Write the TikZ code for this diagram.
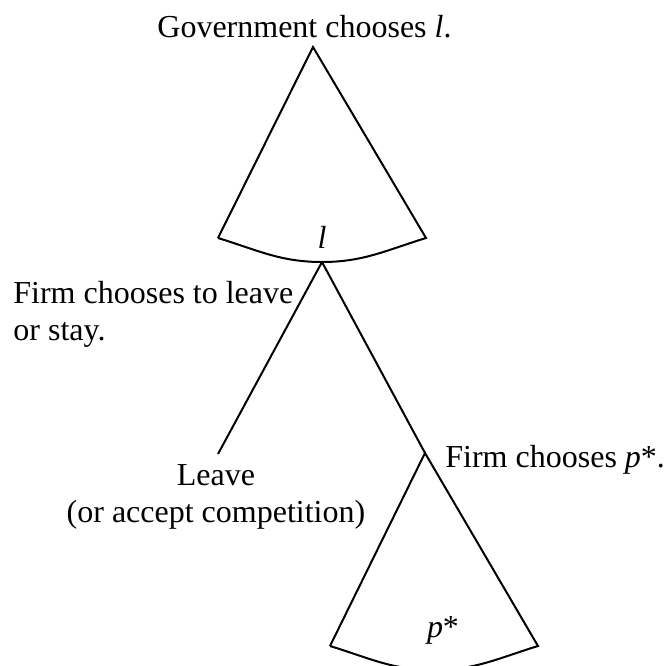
\documentclass[tikz,border=0pt]{standalone}
\usepackage{fontspec}
\setmainfont{Liberation Serif}
\begin{document}
\begin{tikzpicture}[x=0.5pt,y=-0.5pt,
  edge/.style={line width=1pt,line join=miter},
  lbl/.style={inner sep=0pt,font=\fontsize{16}{18.5}\selectfont}]
\useasboundingbox (0,0) rectangle (665,666);
% government cone
\coordinate (gtop) at (313,47);
\coordinate (gL) at (218,238);
\coordinate (gR) at (426,238);
\coordinate (gB) at (322,262);
% firm branches
\coordinate (leaveEnd) at (218,454);
\coordinate (fA) at (425,453);
\coordinate (fL) at (330,646);
\coordinate (fR) at (538,646);
\coordinate (fB) at (434,670);
\draw[edge] (gL) -- (gtop) -- (gR) to[out=197,in=0] (gB) to[out=180,in=-17] (gL);
\draw[edge] (gB) -- (leaveEnd);
\draw[edge] (gB) -- (fA);
\draw[edge] (fL) -- (fA) -- (fR) to[out=197,in=0] (fB) to[out=180,in=-17] (fL);
% labels
\node[lbl,anchor=base west] (gov) at (157,37) {Government chooses \textit{l}.};
\node[lbl,anchor=base] (lval) at (322,248) {\textit{l}};
\node[lbl,anchor=base west,align=left] (firm1) at (13,340) {Firm chooses to leave\\or stay.};
\node[lbl,anchor=base,align=center] (leave) at (216,522) {Leave\\(or accept competition)};
\node[lbl,anchor=base west] (firm2) at (445,467) {Firm chooses \textit{p}*.};
\node[lbl,anchor=base] (pval) at (443,637) {\textit{p}*};
\end{tikzpicture}
\end{document}
